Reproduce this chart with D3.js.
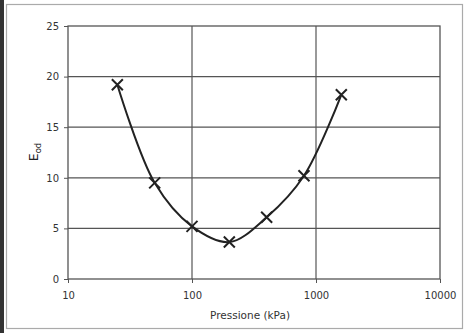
<!DOCTYPE html>
<html><head><meta charset="utf-8">
<script src="https://cdn.jsdelivr.net/npm/d3@7"></script>
<style>body{margin:0;background:#fff}svg{display:block}</style>
</head><body>
<svg id="c" width="470" height="333"></svg>
<script>
const pressure = [25, 50, 100, 200, 400, 800, 1600];
const eod = [19.2, 9.5, 5.2, 3.65, 6.1, 10.2, 18.2];
const xTicks = [10, 100, 1000, 10000];
const yTicks = [0, 5, 10, 15, 20, 25];

const svg = d3.select("#c");
const pL = 68, pR = 440, pT = 26, pB = 279;
const x = d3.scaleLog().domain([10, 10000]).range([pL, pR]);
const y = d3.scaleLinear().domain([0, 25]).range([pB, pT]);
const font = "DejaVu Sans, Arial, sans-serif";

// outer frame
svg.append("rect").attr("x", 0).attr("y", 0).attr("width", 4).attr("height", 333).attr("fill", "#333");
svg.append("rect").attr("x", 6.5).attr("y", 4.5).attr("width", 456).attr("height", 324)
  .attr("fill", "none").attr("stroke", "#aaa").attr("stroke-width", 1.2);

// gridlines
svg.append("g").selectAll("line").data(yTicks.slice(1, -1)).join("line")
  .attr("x1", pL).attr("x2", pR).attr("y1", d => y(d)).attr("y2", d => y(d))
  .attr("stroke", "#555").attr("stroke-width", 1.2);
svg.append("g").selectAll("line").data(xTicks.slice(1, -1)).join("line")
  .attr("y1", pT).attr("y2", pB).attr("x1", d => x(d)).attr("x2", d => x(d))
  .attr("stroke", "#555").attr("stroke-width", 1.2);

// plot border
svg.append("rect").attr("x", pL).attr("y", pT).attr("width", pR - pL).attr("height", pB - pT)
  .attr("fill", "none").attr("stroke", "#555").attr("stroke-width", 1.3);

// axes
const yAxis = d3.axisLeft(y).tickValues(yTicks).tickSize(4).tickPadding(5).tickFormat(d3.format("d"));
const gy = svg.append("g").attr("transform", `translate(${pL},0)`).call(yAxis);
const xAxis = d3.axisBottom(x).tickValues(xTicks).tickSize(4).tickPadding(9).tickFormat(d3.format("d"));
const gx = svg.append("g").attr("transform", `translate(0,${pB})`).call(xAxis);
[gx, gy].forEach(g => {
  g.select(".domain").remove();
  g.selectAll(".tick line").attr("stroke", "#555");
  g.selectAll("text").attr("font-family", font).attr("font-size", 10).attr("fill", "#333");
});

// axis titles
svg.append("text").attr("x", 250).attr("y", 319).attr("text-anchor", "middle")
  .attr("font-family", font).attr("font-size", 10.5).attr("fill", "#333").text("Pressione (kPa)");
const yt = svg.append("text").attr("transform", "translate(38,152) rotate(-90)").attr("text-anchor", "middle")
  .attr("font-family", font).attr("font-size", 12.5).attr("fill", "#222");
yt.append("tspan").text("E");
yt.append("tspan").attr("font-size", 8.5).attr("dy", 3).text("od");

// curve
const line = d3.line().x((d, i) => x(pressure[i])).y(d => y(d)).curve(d3.curveCatmullRom.alpha(0.5));
svg.append("path").attr("d", line(eod)).attr("fill", "none").attr("stroke", "#222").attr("stroke-width", 2);

// markers
const s = 5.5;
const mk = svg.append("g").selectAll("g").data(eod).join("g")
  .attr("transform", (d, i) => `translate(${x(pressure[i])},${y(d)})`);
mk.append("path").attr("d", `M${-s},${-s}L${s},${s}M${-s},${s}L${s},${-s}`)
  .attr("stroke", "#222").attr("stroke-width", 2).attr("fill", "none");
</script>
</body></html>
